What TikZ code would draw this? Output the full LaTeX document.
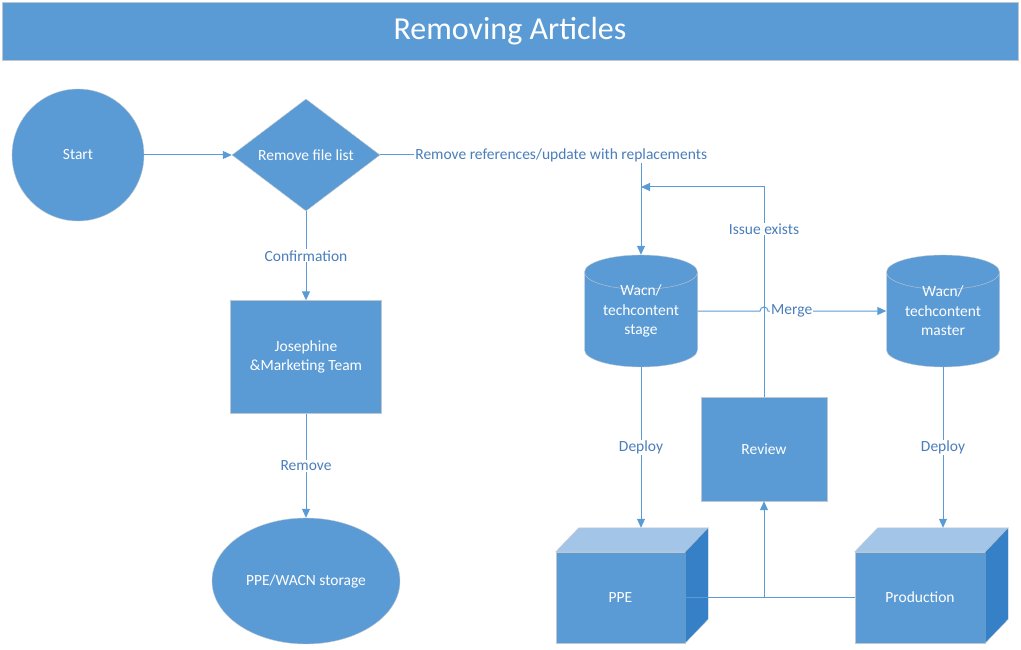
\documentclass[tikz,border=0pt]{standalone}
\usepackage{fontspec}
\setmainfont{Carlito}
\usetikzlibrary{shapes.geometric,arrows.meta}
\definecolor{boxblue}{HTML}{5B9BD5}
\definecolor{edgegray}{HTML}{BFC7D0}
\definecolor{linkblue}{HTML}{5B9BD5}
\definecolor{textblue}{HTML}{4A7EBB}
\definecolor{topblue}{HTML}{A3C6E8}
\definecolor{sideblue}{HTML}{3580C6}

\begin{document}
\begin{tikzpicture}[
    x=1pt, y=-1pt,
    flowshape/.style={
        fill=boxblue,
        draw=edgegray,
        text=white,
        align=center,
        inner sep=0pt,
        font=\fontsize{15.5}{19.5}\selectfont
    },
    repo/.style={
        flowshape,
        cylinder,
        shape border rotate=90,
        aspect=0.44,
        text width=78pt,
        minimum width=113,
        minimum height=112,
        anchor=shape center
    },
    repotext/.style={text=white, align=center, inner sep=0pt, font=\fontsize{15.5}{19.5}\selectfont},
    edgelabel/.style={
        fill=white,
        text=textblue,
        inner sep=1pt,
        font=\fontsize{15.5}{18}\selectfont
    },
    linkline/.style={draw=linkblue, line width=1pt},
    link/.style={linkline, -{Triangle[length=9pt,width=8pt]}}
]
\useasboundingbox (0,0) rectangle (1021,650);

% title
\node[flowshape, minimum width=1016, minimum height=58,
    font=\fontsize{32}{36}\selectfont] (title) at (510,31) {Removing Articles};

% left column
\node[flowshape, circle, minimum size=132] (start) at (78,155) {Start};
\node[flowshape, diamond, minimum width=148, minimum height=112] (filelist) at (306,155) {Remove file list};
\node[flowshape, minimum width=151, minimum height=113] (team) at (306,357) {Josephine\\\&Marketing Team};
\node[flowshape, ellipse, minimum width=188, minimum height=126] (storage) at (306,581) {PPE/WACN storage};

% repositories
\node[repo] (stage) at (641,311) {};
\node[repotext] (stagetext) at (stage.shape center) {Wacn/\\techcontent\\stage};
\node[repo] (master) at (943,311) {};
\node[repotext] (mastertext) at (master.shape center) {Wacn/\\techcontent\\master};
\node[flowshape, minimum width=126, minimum height=104] (review) at (764,449) {Review};

% servers
\node[flowshape, minimum width=129, minimum height=91] (ppe) at (620.5,597.5) {PPE};
\node[flowshape, minimum width=130, minimum height=91] (prod) at (920,597.5) {Production};
\foreach \b in {ppe,prod} {
    \filldraw[fill=topblue, draw=edgegray] (\b.north west) -- ([shift={(23,-24)}]\b.north west)
        -- ([shift={(23,-24)}]\b.north east) -- (\b.north east) -- cycle;
    \filldraw[fill=sideblue, draw=edgegray] (\b.north east) -- ([shift={(23,-24)}]\b.north east)
        -- ([shift={(23,-24)}]\b.south east) -- (\b.south east) -- cycle;
}
\coordinate (ppetop) at ([yshift=24pt]ppe.north);
\coordinate (prodtop) at ([yshift=24pt]prod.north);
\coordinate (loop) at (641,187);
\coordinate (hop) at (764,311);
\coordinate (join) at (ppe.east -| review.south);

% edges
\draw[link] (start) -- (filelist);
\draw[link] (filelist.east) -| node[edgelabel, pos=0.347] {Remove references/update with replacements} (stage.north);
\draw[link] (filelist.south) -- node[edgelabel] {Confirmation} (team.north);
\draw[link] (team.south) -- node[edgelabel] {Remove} (storage.north);
\draw[link] (review.north) |- node[edgelabel, pos=0.4] {Issue exists} (loop);
\draw[link] (stage.east |- hop) -- ([xshift=-4pt]hop) arc[start angle=180, end angle=0, radius=4pt]
    -- node[edgelabel, pos=0.2] {Merge} (master.west |- hop);
\draw[link] (stage.south) -- node[edgelabel] {Deploy} (stage.south |- ppetop);
\draw[link] (master.south) -- node[edgelabel] {Deploy} (master.south |- prodtop);
\draw[linkline] (ppe.east) -- (prod.west);
\draw[link] (join) -- (review.south);

\end{tikzpicture}
\end{document}
